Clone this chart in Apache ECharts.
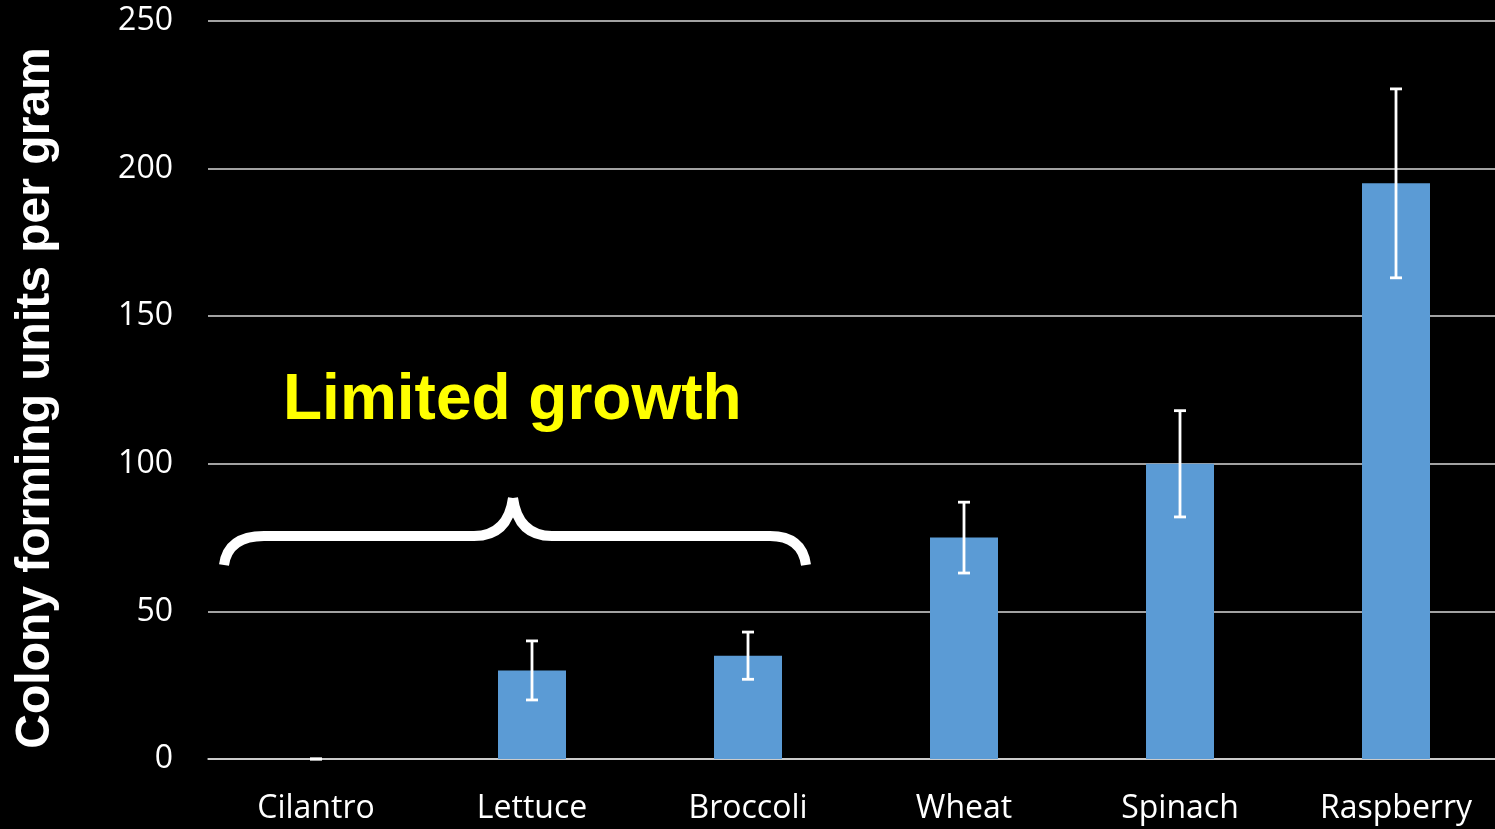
<!DOCTYPE html>
<html>
<head>
<meta charset="utf-8">
<style>
  html, body { margin: 0; padding: 0; background: #000; overflow: hidden; }
  #chart { width: 1504px; height: 829px; }
</style>
<script src="https://cdn.jsdelivr.net/npm/echarts@6/dist/echarts.min.js"></script>
</head>
<body>
<div id="chart"></div>
<script>
// Colony counts per produce type, with error bar bounds
const categories = ['Cilantro', 'Lettuce', 'Broccoli', 'Wheat', 'Spinach', 'Raspberry'];
const cfuValues  = [0, 30, 35, 75, 100, 195];
const errLow     = [0, 20, 27, 63, 82, 163];
const errHigh    = [0, 40, 43, 87, 118, 227];
const yTicks     = [0, 50, 100, 150, 200, 250];

const chart = echarts.init(document.getElementById('chart'), null, { renderer: 'canvas' });

const errorData = categories.map((c, i) => [i, errLow[i], errHigh[i]]);

// curly brace over the low-growth group
const braceStyle = { stroke: '#ffffff', lineWidth: 10, fill: null, lineCap: 'butt' };
const braceParts = [
  { type: 'bezierCurve', shape: { x1: 224, y1: 565, cpx1: 228, cpy1: 536, x2: 264, y2: 536 } },
  { type: 'line', shape: { x1: 263, y1: 536, x2: 475, y2: 536 } },
  { type: 'bezierCurve', shape: { x1: 474, y1: 536, cpx1: 508, cpy1: 536, x2: 513, y2: 498 } },
  { type: 'bezierCurve', shape: { x1: 513, y1: 498, cpx1: 518, cpy1: 536, x2: 552, y2: 536 } },
  { type: 'line', shape: { x1: 551, y1: 536, x2: 771, y2: 536 } },
  { type: 'bezierCurve', shape: { x1: 770, y1: 536, cpx1: 802, cpy1: 536, x2: 806, y2: 565 } }
].map(p => Object.assign(p, { style: braceStyle, z: 10 }));

const option = {
  backgroundColor: '#000000',
  animation: false,
  grid: { left: 208, right: 0, top: 21, bottom: 70, containLabel: false },
  xAxis: {
    type: 'category',
    data: categories,
    axisLine: { show: true, lineStyle: { color: '#d9d9d9', width: 1.5 } },
    axisTick: { show: false },
    axisLabel: { color: '#ffffff', fontFamily: 'Open Sans', fontSize: 32, margin: 34 }
  },
  yAxis: {
    type: 'value',
    min: yTicks[0],
    max: yTicks[yTicks.length - 1],
    interval: yTicks[1] - yTicks[0],
    name: 'Colony forming units per gram',
    nameLocation: 'middle',
    nameRotate: 90,
    nameGap: 148,
    nameTextStyle: {
      color: '#ffffff', fontFamily: 'Liberation Sans', fontWeight: 'bold', fontSize: 48,
      padding: [0, 16, 0, 0]
    },
    axisLine: { show: false },
    axisTick: { show: false },
    splitLine: { lineStyle: { color: '#d9d9d9', width: 1.5 } },
    axisLabel: { color: '#ffffff', fontFamily: 'Open Sans', fontSize: 32, margin: 35, padding: [4, 0, 0, 0] }
  },
  series: [
    {
      type: 'bar',
      data: cfuValues,
      barWidth: 68,
      itemStyle: { color: '#5b9bd5' },
      z: 2
    },
    {
      type: 'custom',
      data: errorData,
      z: 3,
      renderItem: function (params, api) {
        const x = api.value(0);
        const lo = api.coord([x, api.value(1)]);
        const hi = api.coord([x, api.value(2)]);
        const half = 6;
        const style = { stroke: '#ffffff', lineWidth: 2.8 };
        return {
          type: 'group',
          children: [
            { type: 'line', shape: { x1: hi[0], y1: hi[1], x2: lo[0], y2: lo[1] }, style: style },
            { type: 'line', shape: { x1: hi[0] - half, y1: hi[1], x2: hi[0] + half, y2: hi[1] }, style: style },
            { type: 'line', shape: { x1: lo[0] - half, y1: lo[1], x2: lo[0] + half, y2: lo[1] }, style: style }
          ]
        };
      }
    }
  ],
  graphic: braceParts.concat([
    {
      type: 'text',
      left: 283,
      top: 369,
      z: 10,
      style: {
        text: 'Limited growth',
        fill: '#ffff00',
        font: 'bold 64px "Liberation Sans", Arial, sans-serif'
      }
    }
  ])
};

chart.setOption(option);
</script>
</body>
</html>
